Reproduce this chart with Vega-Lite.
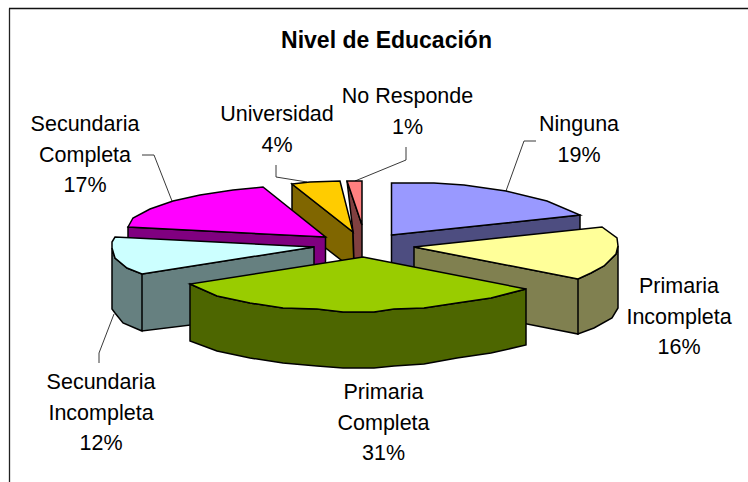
{
"$schema":"https://vega.github.io/schema/vega-lite/v6.json",
"width":748,"height":482,"padding":0,"autosize":{"type":"none"},"background":"white",
"config":{"view":{"stroke":null}},
"title":{"text":"Nivel de Educación","font":"Liberation Sans","fontSize":23,"fontWeight":"bold","color":"#000","anchor":"middle","offset":-71,"dx":12.5,"baseline":"alphabetic"},
"data":{"values":[
{"nivel":"Ninguna","porcentaje":19,"etiqueta":"Ninguna\n19%"},
{"nivel":"Universidad","porcentaje":4,"etiqueta":"Universidad\n4%"},
{"nivel":"No Responde","porcentaje":1,"etiqueta":"No Responde\n1%"},
{"nivel":"Secundaria Completa","porcentaje":17,"etiqueta":"Secundaria\nCompleta\n17%"},
{"nivel":"Secundaria Incompleta","porcentaje":12,"etiqueta":"Secundaria\nIncompleta\n12%"},
{"nivel":"Primaria Incompleta","porcentaje":16,"etiqueta":"Primaria\nIncompleta\n16%"},
{"nivel":"Primaria Completa","porcentaje":31,"etiqueta":"Primaria\nCompleta\n31%"}
]},
"resolve":{"scale":{"fill":"independent","shape":"independent"}},
"layer":[
{"data":{"values":[{}]},"mark":{"type":"rule","color":"#222","strokeWidth":1.3},"encoding":{"x":{"value":9.5},"y":{"value":8.5},"y2":{"value":482}}},
{"data":{"values":[{}]},"mark":{"type":"rule","color":"#111","strokeWidth":1.3},"encoding":{"y":{"value":8.5},"x":{"value":9},"x2":{"value":748}}},
{"transform":[{"filter":{"field":"nivel","oneOf":["Ninguna","Universidad","No Responde","Secundaria Completa","Secundaria Incompleta"]}}],
 "mark":{"type":"point","filled":false,"size":4,"opacity":1,"stroke":"#222","strokeWidth":0.9},
 "encoding":{"shape":{"field":"nivel","type":"nominal","legend":null,"scale":{"domain":["Ninguna","Universidad","No Responde","Secundaria Completa","Secundaria Incompleta"],"range":[
 "M132,-50 L150,-100 L162,-100","M-98,-76 L-98,-64 L-67,-59","M32,-94 L32,-81 L-19,-60","M-232,-86 L-220,-86 L-202,-40","M-275,122 L-275,112 L-260,73"]}}}},
{"mark":{"type":"point","filled":true,"size":4,"opacity":1,"stroke":"#000","strokeWidth":1.5,"strokeJoin":"miter"},
 "encoding":{
 "fill":{"field":"nivel","type":"nominal","legend":null,"scale":{"domain":["Ninguna","Universidad","No Responde","Secundaria Completa","Secundaria Incompleta","Primaria Incompleta","Primaria Completa"],"range":["#4D4D80","#806600","#804040","#800080","#668080","#808050","#4D6600"]}},
 "shape":{"field":"nivel","type":"nominal","legend":null,"scale":{"domain":["Ninguna","Universidad","No Responde","Secundaria Completa","Secundaria Incompleta","Primaria Incompleta","Primaria Completa"],"range":[
 "M17.5,-6 L206,-26 L206,9 L17.5,29 Z",
 "M-82,-57 L-21,-9 L-20,29 L-82,-19 Z",
 "M-27,-60 L-12,-16 L-12,21 L-20,21 L-21,-9 Z",
 "M-246,-14 L-48.5,-4 L-48.5,31 L-246,21 Z",
 "M-232,33 L-60,6 L-60,69 L-232,90 Z M-232,33 L-247,27 L-259,17 L-262,7 L-262,68 L-259,72 L-251,82 L-232,90 Z",
 "M40,6 L204,38 L204,93 L40,61 Z M204,38 L217,32 L230,25 L242,13 L244,5 L244,67 L238,77 L220,87 L204,93 Z",
 "M152,48 L117,57 L83,62 L50,67 L20,68 L0,71 L-31,71 L-57,68 L-91,67 L-124,62 L-157,55 L-184,43 L-184,100 L-157,110 L-124,117 L-91,122 L-57,125 L-31,127 L0,127 L20,125 L50,123 L83,117 L117,112 L152,104 Z"]}}}},
{"mark":{"type":"point","filled":true,"size":4,"opacity":1,"stroke":"#000","strokeWidth":1.5,"strokeJoin":"miter"},
 "encoding":{
 "fill":{"field":"nivel","type":"nominal","legend":null,"scale":{"domain":["Ninguna","Universidad","No Responde","Secundaria Completa","Secundaria Incompleta","Primaria Incompleta","Primaria Completa"],"range":["#9999FF","#FFCC00","#FF8080","#FF00FF","#CCFFFF","#FFFF99","#99CC00"]}},
 "shape":{"field":"nivel","type":"nominal","legend":null,"scale":{"domain":["Ninguna","Universidad","No Responde","Secundaria Completa","Secundaria Incompleta","Primaria Incompleta","Primaria Completa"],"range":[
 "M17.5,-58 L60,-58 L90,-56 L132,-50 L173,-40 L206,-26 L17.5,-6 Z",
 "M-82,-57 L-64,-59 L-34,-60 L-21,-9 Z",
 "M-27,-60 L-12,-60 L-12,-16 Z",
 "M-246,-14 L-241,-23 L-224,-32 L-201,-40 L-174,-46 L-141,-51 L-111,-54 L-48.5,-4 Z",
 "M-259,-4 L-60,6 L-232,33 L-247,27 L-259,17 L-262,7 L-262,1 Z",
 "M40,6 L228,-14 L243,-3 L244,5 L242,13 L230,25 L217,32 L204,38 Z",
 "M-11,16 L152,48 L117,57 L83,62 L50,67 L20,68 L0,71 L-31,71 L-57,68 L-91,67 L-124,62 L-157,55 L-184,43 Z"]}}}},
{"transform":[{"filter":{"field":"nivel","equal":"Ninguna"}}],"mark":{"type":"text","font":"Liberation Sans","fontSize":21.5,"lineHeight":30.5,"lineBreak":"\n","align":"center","baseline":"alphabetic","color":"#000","dx":205,"dy":-110},"encoding":{"text":{"field":"etiqueta"}}},
{"transform":[{"filter":{"field":"nivel","equal":"Primaria Incompleta"}}],"mark":{"type":"text","font":"Liberation Sans","fontSize":21.5,"lineHeight":30.5,"lineBreak":"\n","align":"center","baseline":"alphabetic","color":"#000","dx":305,"dy":52},"encoding":{"text":{"field":"etiqueta"}}},
{"transform":[{"filter":{"field":"nivel","equal":"Primaria Completa"}}],"mark":{"type":"text","font":"Liberation Sans","fontSize":21.5,"lineHeight":30.5,"lineBreak":"\n","align":"center","baseline":"alphabetic","color":"#000","dx":9.5,"dy":158},"encoding":{"text":{"field":"etiqueta"}}},
{"transform":[{"filter":{"field":"nivel","equal":"Secundaria Incompleta"}}],"mark":{"type":"text","font":"Liberation Sans","fontSize":21.5,"lineHeight":30.5,"lineBreak":"\n","align":"center","baseline":"alphabetic","color":"#000","dx":-273,"dy":148},"encoding":{"text":{"field":"etiqueta"}}},
{"transform":[{"filter":{"field":"nivel","equal":"Secundaria Completa"}}],"mark":{"type":"text","font":"Liberation Sans","fontSize":21.5,"lineHeight":30.5,"lineBreak":"\n","align":"center","baseline":"alphabetic","color":"#000","dx":-289,"dy":-110},"encoding":{"text":{"field":"etiqueta"}}},
{"transform":[{"filter":{"field":"nivel","equal":"Universidad"}}],"mark":{"type":"text","font":"Liberation Sans","fontSize":21.5,"lineHeight":30.5,"lineBreak":"\n","align":"center","baseline":"alphabetic","color":"#000","dx":-97,"dy":-120},"encoding":{"text":{"field":"etiqueta"}}},
{"transform":[{"filter":{"field":"nivel","equal":"No Responde"}}],"mark":{"type":"text","font":"Liberation Sans","fontSize":21.5,"lineHeight":30.5,"lineBreak":"\n","align":"center","baseline":"alphabetic","color":"#000","dx":33.5,"dy":-138},"encoding":{"text":{"field":"etiqueta"}}}
]}
